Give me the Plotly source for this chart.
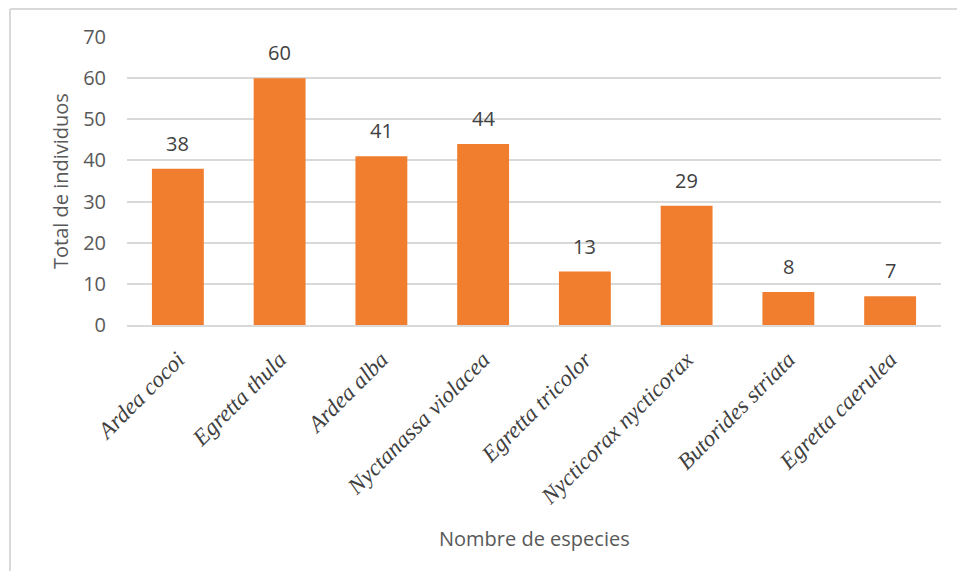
import plotly.graph_objects as go

species = ["Ardea cocoi", "Egretta thula", "Ardea alba", "Nyctanassa violacea",
           "Egretta tricolor", "Nycticorax nycticorax", "Butorides striata", "Egretta caerulea"]
counts = [38, 60, 41, 44, 13, 29, 8, 7]
y_ticks = [0, 10, 20, 30, 40, 50, 60, 70]

# page body has an 8px margin; figure coordinates are offset by it
OFF = 8
W, H = 965 - 2 * OFF, 579 - 2 * OFF
L, T = 127 - OFF, 37 - OFF
R = W - (941 - OFF)
B = H - (325 - OFF)
pw, ph = W - L - R, H - T - B

fig = go.Figure()
fig.add_trace(go.Bar(
    x=species, y=counts,
    marker=dict(color="#F07E2E", line=dict(width=0)),
    width=0.51,
    hoverinfo="x+y",
))

for s, c in zip(species, counts):
    fig.add_annotation(x=s, y=c, text=str(c), showarrow=False, yanchor="bottom",
                       yshift=10, font=dict(family="Open Sans", size=20, color="#404040"))

# axis titles
fig.add_annotation(xref="paper", yref="paper", x=(60 - 127) / pw, y=0.5, text="Total de individuos",
                   textangle=-90, showarrow=False, xanchor="center", yanchor="middle",
                   font=dict(family="Open Sans", size=20, color="#595959"))
fig.add_annotation(xref="paper", yref="paper", x=0.5, y=(325 - 538) / ph, text="Nombre de especies",
                   showarrow=False, xanchor="center", yanchor="middle",
                   font=dict(family="Open Sans", size=20, color="#595959"))

# chart-area border (left and top only visible)
bx = (10 - 127) / pw
by = 1 + (37 - 9) / ph
fig.add_shape(type="line", xref="paper", yref="paper", x0=bx, x1=bx, y0=-2, y1=by,
              line=dict(color="#D9D9D9", width=2))
fig.add_shape(type="line", xref="paper", yref="paper", x0=bx, x1=1.2, y0=by, y1=by,
              line=dict(color="#D9D9D9", width=2))

fig.update_layout(
    width=W, height=H,
    margin=dict(l=L, r=R, t=T, b=B, autoexpand=False),
    paper_bgcolor="white", plot_bgcolor="white",
    showlegend=False,
    xaxis=dict(
        tickangle=-45,
        tickfont=dict(family="Liberation Serif", size=23, color="#404040", style="italic"),
        showgrid=False, showline=True, linecolor="#D9D9D9", linewidth=2,
        ticks="", automargin=False, ticklabelstandoff=10,
    ),
    yaxis=dict(
        range=[0, 70], tickvals=y_ticks,
        tickfont=dict(family="Open Sans", size=20, color="#595959"),
        showgrid=True, gridcolor="#D9D9D9", gridwidth=1.5,
        zeroline=False, showline=False, ticks="", ticklabelstandoff=20,
        automargin=False,
    ),
)

fig.write_html("out.html", config={"displayModeBar": False})
